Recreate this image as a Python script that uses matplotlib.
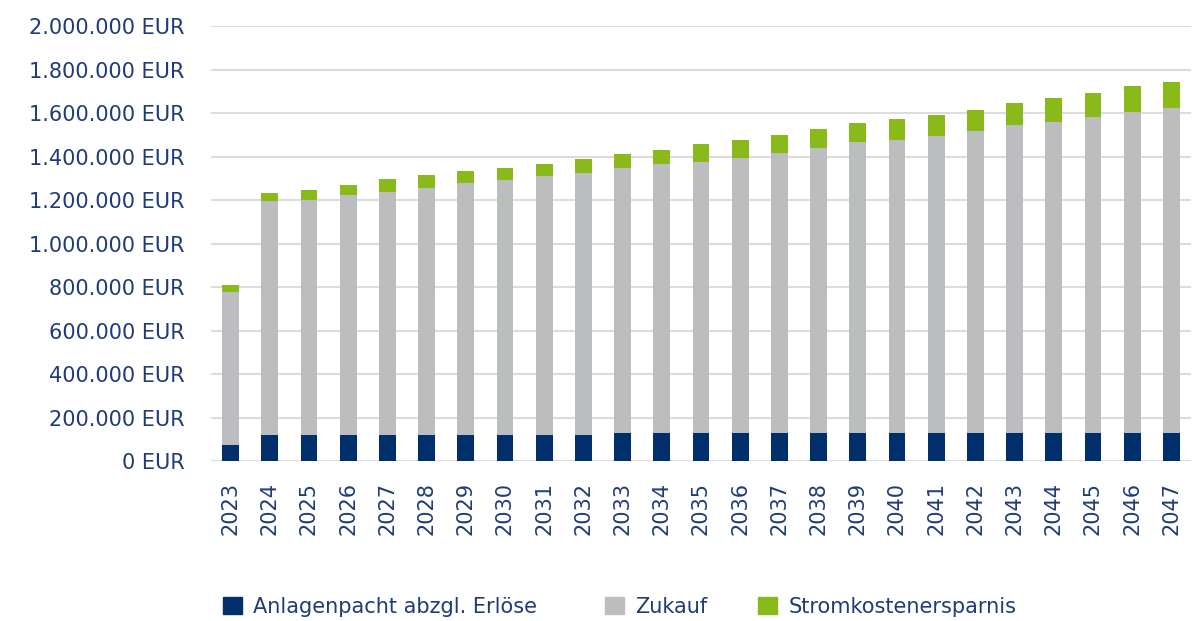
import numpy as np
import matplotlib.pyplot as plt
from matplotlib.patches import Patch
from matplotlib.ticker import FuncFormatter

years = [str(y) for y in range(2023, 2048)]

# values in EUR
anlagenpacht = [75000] + [120000] * 9 + [130000] * 15
zukauf = [703000, 1077000, 1081000, 1104000, 1118000, 1137000, 1160000, 1173000,
          1192000, 1206000, 1219000, 1237000, 1246000, 1264000, 1288000, 1311000,
          1338000, 1347000, 1366000, 1389000, 1416000, 1430000, 1453000, 1476000,
          1494000]
ersparnis = [33000, 37000, 46000, 46000, 60000, 59000, 55000, 56000, 55000,
             64000, 64000, 64000, 83000, 83000, 82000, 87000, 87000, 97000,
             96000, 96000, 101000, 110000, 110000, 120000, 120000]

labels = ['Anlagenpacht abzgl. Erlöse', 'Zukauf', 'Stromkostenersparnis']
colors = ['#002f6c', '#bcbdbf', '#8ab91a']
text_col = '#1f3c74'

plt.rcParams['font.family'] = ['DejaVu Sans']

fig = plt.figure(figsize=(12.02, 6.21), dpi=100)
ax = fig.add_axes([0.1755, 0.2572, 0.8153, 0.7006])

x = np.arange(len(years))
w = 0.43
a = np.array(anlagenpacht)
z = np.array(zukauf)
e = np.array(ersparnis)
ax.bar(x, a, w, color=colors[0], zorder=3)
ax.bar(x, z, w, bottom=a, color=colors[1], zorder=3)
ax.bar(x, e, w, bottom=a + z, color=colors[2], zorder=3)

ax.set_xlim(-0.5, 24.5)
ax.set_ylim(0, 2000000)
ax.set_yticks(np.arange(0, 2000001, 200000))
ax.yaxis.set_major_formatter(FuncFormatter(lambda v, p: f'{int(v):,} EUR'.replace(',', '.')))
ax.set_xticks(x)
ax.set_xticklabels(years, rotation=90)
ax.yaxis.grid(True, color='#dcdcdc', lw=1.5, zorder=0)
ax.set_axisbelow(True)
for s in ax.spines.values():
    s.set_visible(False)
ax.tick_params(axis='y', length=0, pad=19, labelsize=15, labelcolor=text_col)
ax.tick_params(axis='x', length=0, pad=15, labelsize=15, labelcolor=text_col)

# legend entries placed one by one, like the original
leg_x = [223 / 1202, 605 / 1202, 758 / 1202]
for lx, lab, c in zip(leg_x, labels, colors):
    fig.legend(handles=[Patch(color=c)], labels=[lab], loc='center left',
               bbox_to_anchor=(lx, 0.0225), frameon=False, fontsize=15,
               labelcolor=text_col, handlelength=0.9, handleheight=0.9,
               handletextpad=0.55, borderpad=0, borderaxespad=0)

plt.savefig('out.png', dpi=100)
